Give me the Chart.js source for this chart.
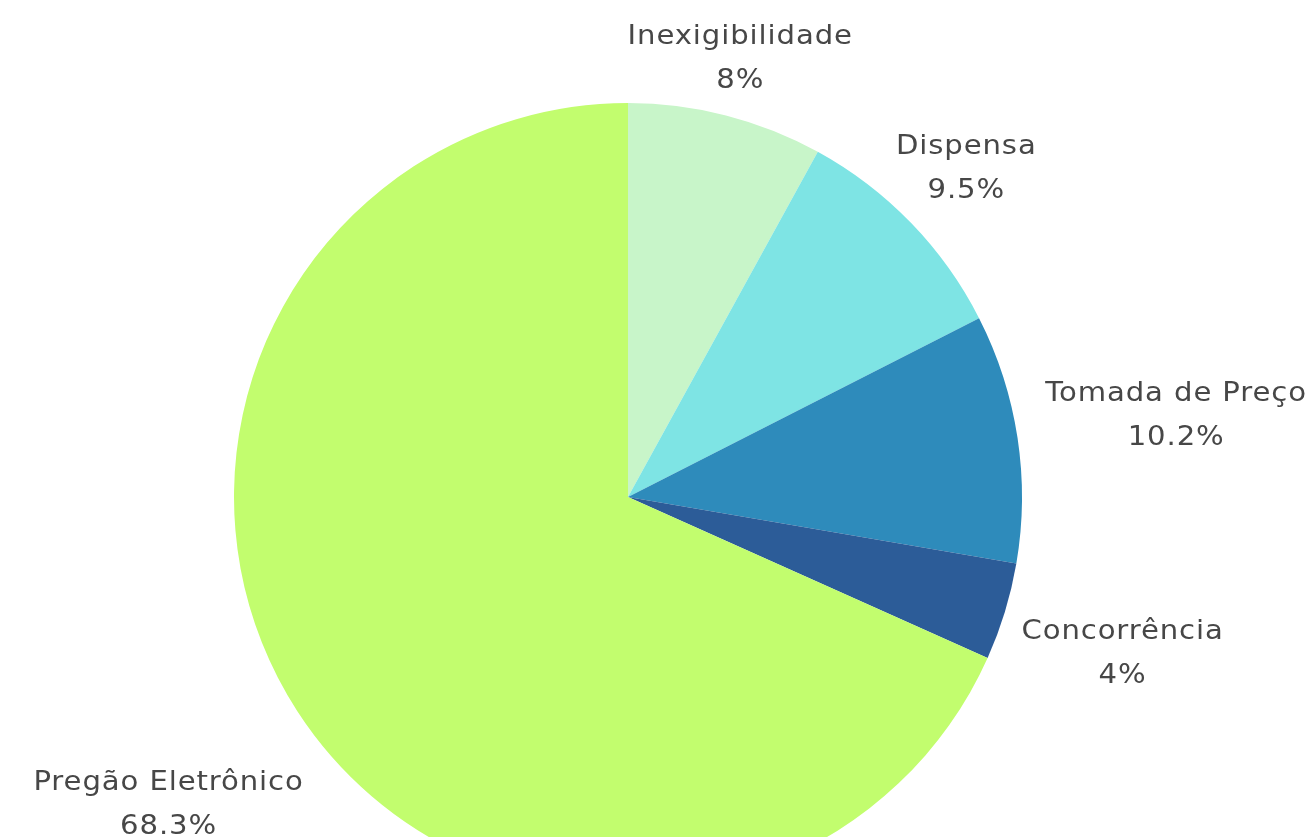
<!DOCTYPE html>
<html>
<head>
<meta charset="utf-8">
<script src="https://cdn.jsdelivr.net/npm/chart.js@4.4.1/dist/chart.umd.min.js"></script>
<style>
  html, body { margin: 0; padding: 0; background: #ffffff; overflow: hidden; }
  #wrap { width: 1315px; height: 1000px; position: relative; }
</style>
</head>
<body>
<div id="wrap"><canvas id="c" width="1315" height="1000"></canvas></div>
<script>
const categories = ["Inexigibilidade", "Dispensa", "Tomada de Preço", "Concorrência", "Pregão Eletrônico"];
const shares = [8, 9.5, 10.2, 4, 68.3];
const sliceColors = ["#c8f5c9", "#7ee4e4", "#2e8bbb", "#2c5c98", "#c2fd6e"];

const FONT = "'DejaVu Sans', sans-serif";
const FONT_SIZE = 26;
const STRETCH = 1.12;
const LINE_GAP = 44;

const outsideLabels = {
  id: 'outsideLabels',
  afterDatasetsDraw(chart) {
    const ctx = chart.ctx;
    const meta = chart.getDatasetMeta(0);
    ctx.save();
    ctx.font = FONT_SIZE + "px " + FONT;
    if ('letterSpacing' in ctx) ctx.letterSpacing = "0.8px";
    ctx.fillStyle = "#474747";
    ctx.textBaseline = "middle";
    ctx.textAlign = "center";
    meta.data.forEach((arc, i) => {
      const p = arc.getProps(['x', 'y', 'startAngle', 'endAngle', 'outerRadius'], true);
      const mid = (p.startAngle + p.endAngle) / 2;
      const dx = Math.cos(mid), dy = Math.sin(mid);
      const line1 = chart.data.labels[i];
      const line2 = chart.data.datasets[0].data[i] + "%";
      const w = STRETCH * Math.max(ctx.measureText(line1).width, ctx.measureText(line2).width);
      const h = LINE_GAP + FONT_SIZE;
      const gap = -9;
      const dist = p.outerRadius + gap + Math.abs(dx) * w / 2 * 1.3 + Math.abs(dy) * h / 2;
      const cx = p.x + dx * dist - dx * 4;
      const cy = p.y + dy * dist + 3 + Math.max(0, dy) * 10;
      ctx.save();
      ctx.translate(cx, cy);
      ctx.scale(STRETCH, 1);
      ctx.fillText(line1, 0, -LINE_GAP / 2);
      ctx.fillText(line2, 0, LINE_GAP / 2);
      ctx.restore();
    });
    ctx.restore();
  }
};

new Chart(document.getElementById('c'), {
  type: 'pie',
  data: {
    labels: categories,
    datasets: [{
      data: shares,
      backgroundColor: sliceColors,
      borderWidth: 0
    }]
  },
  options: {
    responsive: false,
    animation: false,
    layout: { padding: { left: 234, right: 293, top: 103, bottom: 109 } },
    plugins: {
      legend: { display: false },
      tooltip: { enabled: false }
    }
  },
  plugins: [outsideLabels]
});
</script>
</body>
</html>
